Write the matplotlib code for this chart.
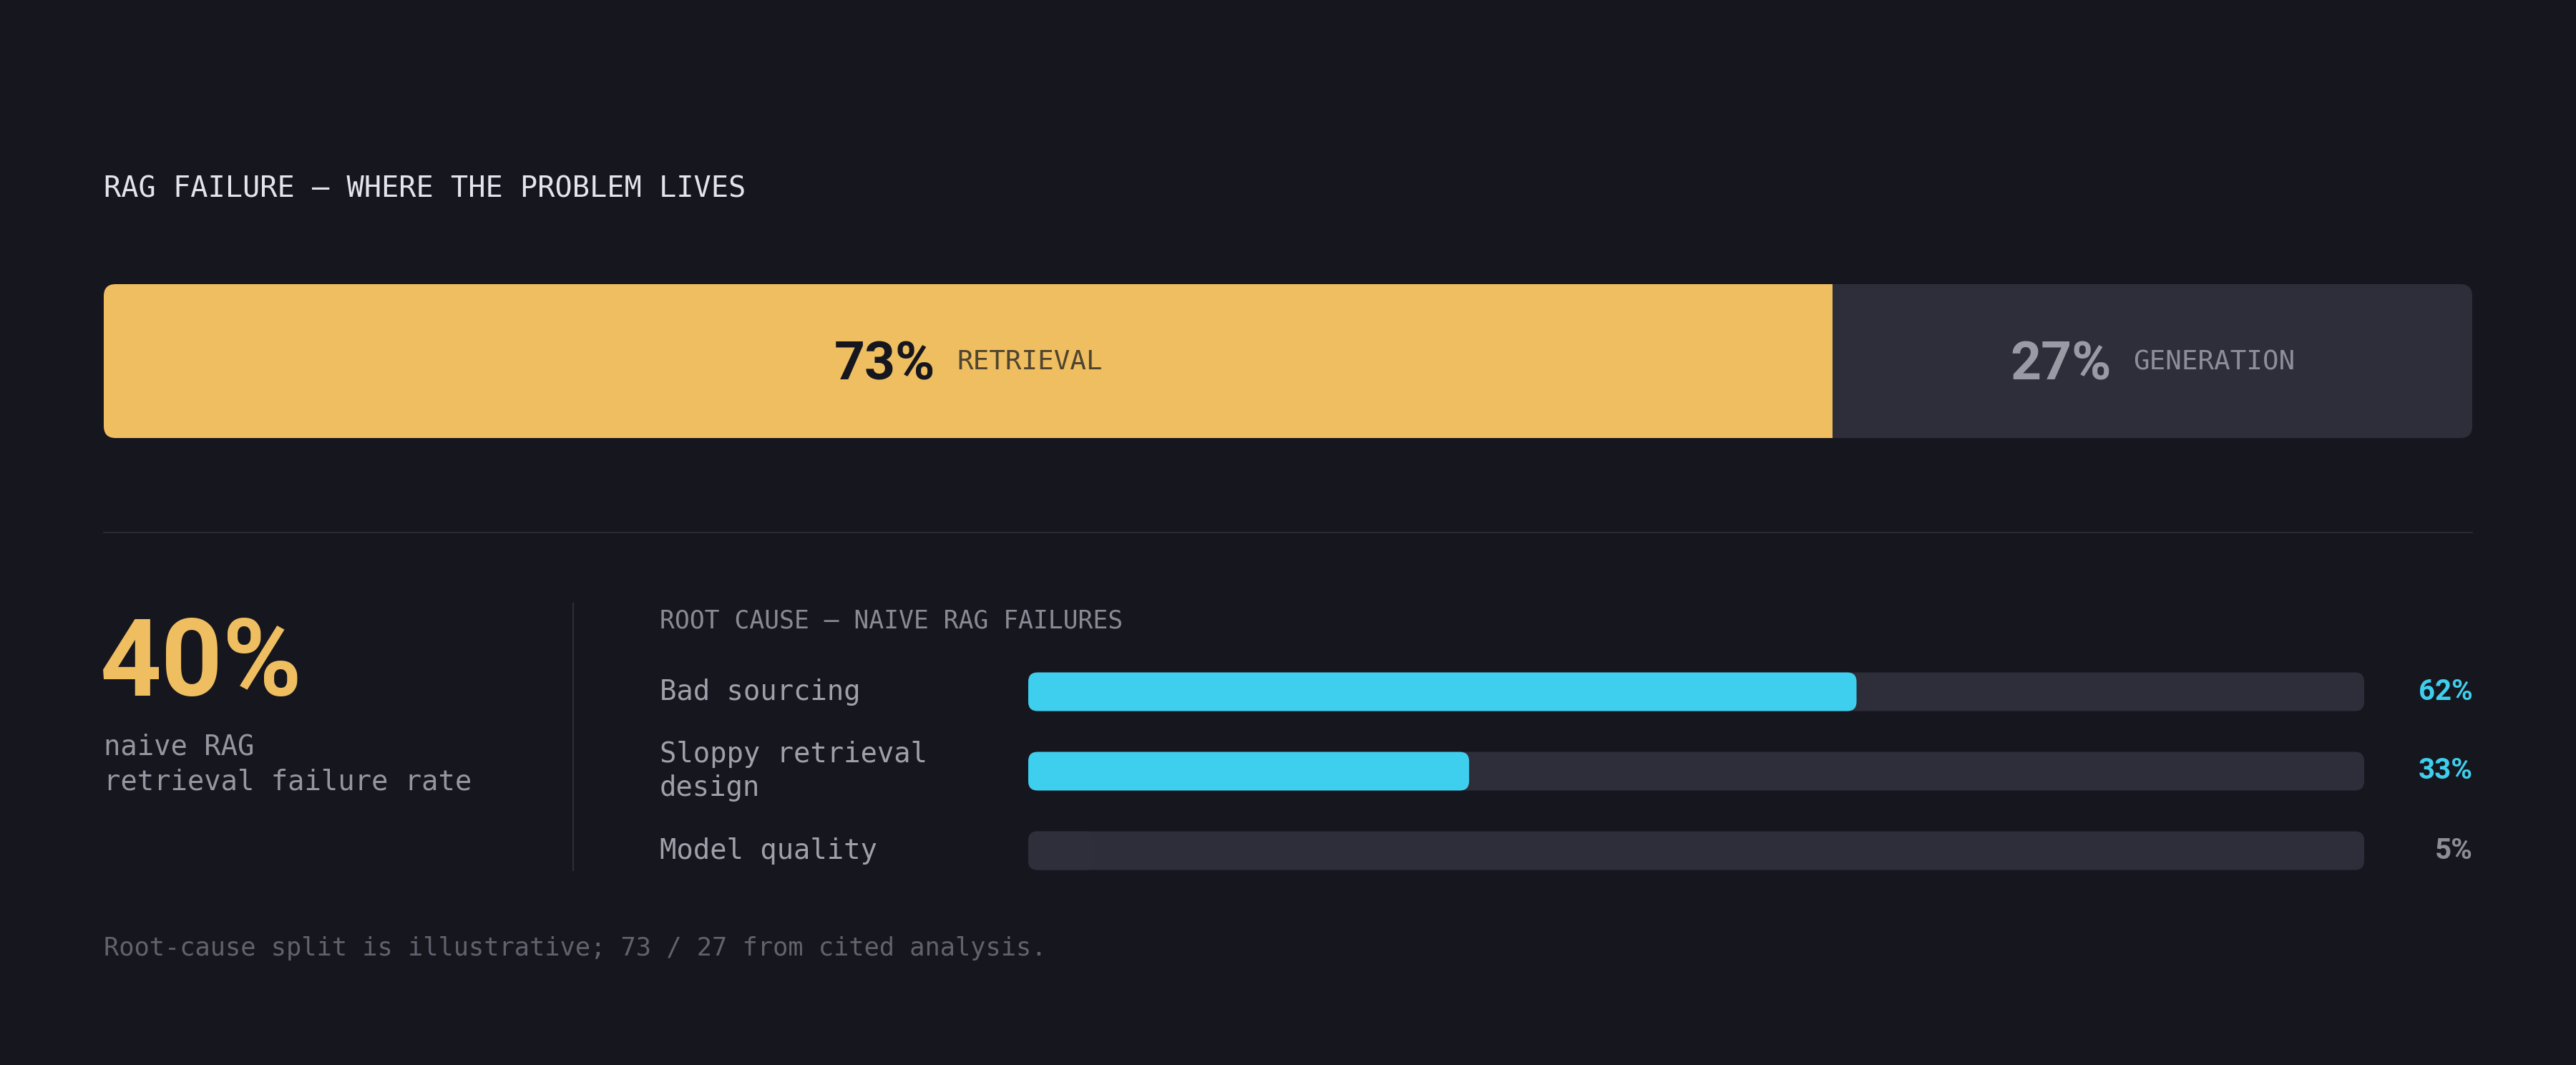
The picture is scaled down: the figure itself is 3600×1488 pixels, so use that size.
import matplotlib.pyplot as plt
from matplotlib.patches import FancyBboxPatch
from matplotlib.lines import Line2D
from matplotlib.transforms import IdentityTransform, blended_transform_factory

# data
split_labels = ['RETRIEVAL', 'GENERATION']
split_values = [73, 27]

headline_value = 40
headline_caption = 'naive RAG\nretrieval failure rate'

cause_labels = ['Bad sourcing', 'Sloppy retrieval\ndesign', 'Model quality']
cause_values = [62, 33, 5]

title = 'RAG FAILURE — WHERE THE PROBLEM LIVES'
subtitle = 'ROOT CAUSE — NAIVE RAG FAILURES'
footnote = 'Root-cause split is illustrative; 73 / 27 from cited analysis.'

# colours
BG = '#16161e'
YELLOW = '#efbe60'
TRACK = '#2e2e3a'
CYAN = '#3ecfee'
MONO = 'DejaVu Sans Mono'
SANS = 'Roboto'

W, H = 3600, 1488
fig = plt.figure(figsize=(W / 100, H / 100), dpi=100, facecolor=BG)
renderer = fig.canvas.get_renderer()


def fx(x):
    return x / W


def fy(y):
    return 1 - y / H


# title
fig.text(fx(145), fy(275), title, fontsize=29, family=MONO, color='#e4e4ec', va='baseline')

# top split bar
ax1 = fig.add_axes([fx(145), fy(612), 3310 / W, 215 / H])
ax1.set_xlim(0, 100)
ax1.set_ylim(0, 1)
ax1.axis('off')
asp1 = (1 / 215) / (100 / 3310)
clip = FancyBboxPatch((0, 0), 100, 1, boxstyle='round,pad=0,rounding_size=0.5',
                      mutation_aspect=asp1, transform=ax1.transData, facecolor='none')
bars = ax1.barh(0.5, split_values, left=[0, split_values[0]], height=1,
                color=[YELLOW, TRACK], linewidth=0)
for b in bars:
    b.set_clip_path(clip)

num_colors = ['#16161e', '#9a9aa4']
lab_colors = ['#4e4430', '#8e8e9a']
left = 0
for v, lab, nc, lc in zip(split_values, split_labels, num_colors, lab_colors):
    cx, cy = ax1.transData.transform((left + v / 2, 0.5))
    t1 = fig.text(0, 0, f'{v}%', fontsize=54, family=SANS, weight='bold', color=nc,
                  va='baseline', transform=IdentityTransform())
    t2 = fig.text(0, 0, lab, fontsize=27, family=MONO, color=lc,
                  va='baseline', transform=IdentityTransform())
    w1 = t1.get_window_extent(renderer).width
    w2 = t2.get_window_extent(renderer).width
    gap = 30
    x0 = cx - (w1 + gap + w2) / 2
    t1.set_position((x0, cy - 26))
    t2.set_position((x0 + w1 + gap, cy - 12))
    left += v

# divider lines
fig.add_artist(Line2D([fx(145), fx(3455)], [fy(744), fy(744)], transform=fig.transFigure,
                      color='#2a2a35', lw=1.5))
fig.add_artist(Line2D([fx(801), fx(801)], [fy(843), fy(1216)], transform=fig.transFigure,
                      color='#2e2e38', lw=1.5))

# headline number
fig.text(fx(140), fy(972), f'{headline_value}%', fontsize=108, family=SANS, weight='bold',
         color=YELLOW, va='baseline')
fig.text(fx(145), fy(1103), headline_caption, fontsize=28, family=MONO, color='#9696a2',
         va='baseline', linespacing=1.36)

# root cause bars
fig.text(fx(922), fy(877), subtitle, fontsize=25, family=MONO, color='#8a8a96', va='baseline')

ax2 = fig.add_axes([fx(1437), fy(1244), 1867 / W, 333 / H])
ax2.set_xlim(0, 100)
ax2.set_ylim(2.5, -0.5)
ax2.axis('off')
asp2 = (3 / 333) / (100 / 1867)
r2 = 13 * 100 / 1867
bh = 54 / 111
fill_colors = [CYAN, CYAN, '#2f2f3b']
val_colors = [CYAN, CYAN, '#8e8e98']
lab_tr = blended_transform_factory(fig.transFigure, ax2.transData)
for i, (lab, v) in enumerate(zip(cause_labels, cause_values)):
    ax2.add_patch(FancyBboxPatch((0, i - bh / 2), 100, bh,
                                 boxstyle=f'round,pad=0,rounding_size={r2}',
                                 mutation_aspect=asp2, facecolor=TRACK, linewidth=0))
    ax2.add_patch(FancyBboxPatch((0, i - bh / 2), v, bh,
                                 boxstyle=f'round,pad=0,rounding_size={r2}',
                                 mutation_aspect=asp2, facecolor=fill_colors[i], linewidth=0))
    fig.text(fx(922), i, lab, transform=lab_tr, fontsize=28, family=MONO, color='#a0a0ac',
             va='center', linespacing=1.3)
    fig.text(fx(3456), i, f'{v}%', transform=lab_tr, fontsize=29, family=SANS,
             weight='bold', color=val_colors[i], ha='right', va='center')

# footnote
fig.text(fx(145), fy(1335), footnote, fontsize=25.5, family=MONO, color='#62626e', va='baseline')

fig.savefig('out.png', dpi=100, facecolor=BG)
